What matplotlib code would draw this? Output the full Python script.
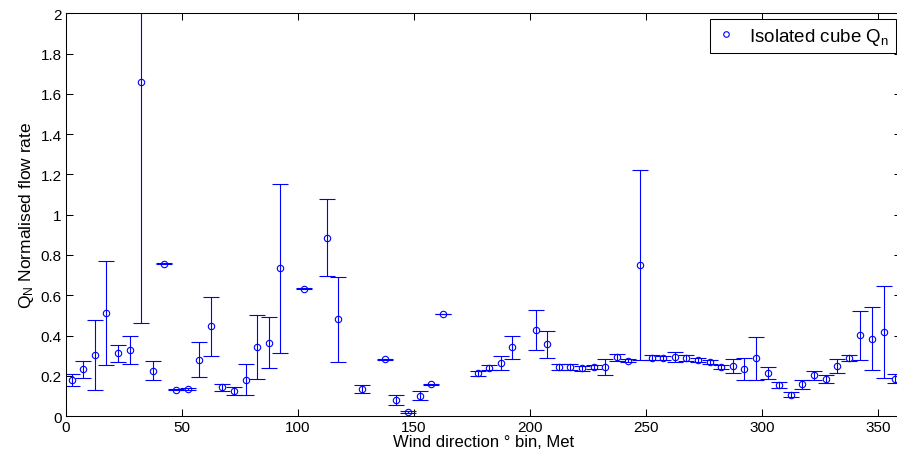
import matplotlib
matplotlib.use("Agg")
import matplotlib.pyplot as plt
from matplotlib.lines import Line2D

plt.rcParams['font.family'] = ['Liberation Sans', 'DejaVu Sans']
plt.rcParams['mathtext.fontset'] = 'custom'
plt.rcParams['mathtext.rm'] = 'Liberation Sans'
plt.rcParams['mathtext.it'] = 'Liberation Sans'

# Wind direction bin centres (degrees, Met)
direction = [2.5, 7.5, 12.5, 17.5, 22.5, 27.5, 32.5, 37.5, 42.5, 47.5,
             52.5, 57.5, 62.5, 67.5, 72.5, 77.5, 82.5, 87.5, 92.5, 102.5,
             112.5, 117.5, 127.5, 137.5, 142.5, 147.5, 152.5, 157.5, 162.5,
             177.5, 182.5, 187.5, 192.5, 202.5, 207.5, 212.5, 217.5, 222.5,
             227.5, 232.5, 237.5, 242.5, 247.5, 252.5, 257.5, 262.5, 267.5,
             272.5, 277.5, 282.5, 287.5, 292.5, 297.5, 302.5, 307.5, 312.5,
             317.5, 322.5, 327.5, 332.5, 337.5, 342.5, 347.5, 352.5, 357.5]

# Normalised flow rate Q_N
q_norm = [0.180, 0.232, 0.305, 0.511, 0.312, 0.327, 1.659, 0.226, 0.757, 0.132,
          0.136, 0.281, 0.446, 0.143, 0.124, 0.182, 0.343, 0.364, 0.734, 0.633,
          0.886, 0.480, 0.135, 0.282, 0.080, 0.021, 0.102, 0.158, 0.507,
          0.212, 0.241, 0.263, 0.342, 0.429, 0.356, 0.244, 0.244, 0.238,
          0.244, 0.244, 0.292, 0.275, 0.752, 0.291, 0.288, 0.295, 0.290,
          0.279, 0.269, 0.246, 0.248, 0.234, 0.287, 0.214, 0.156, 0.107,
          0.158, 0.203, 0.183, 0.249, 0.287, 0.401, 0.385, 0.419, 0.186]

# Symmetric error (half-range)
q_err = [0.029, 0.041, 0.174, 0.258, 0.042, 0.069, 1.196, 0.046, 0.002, 0.004,
         0.004, 0.088, 0.147, 0.018, 0.019, 0.077, 0.160, 0.126, 0.419, 0.002,
         0.192, 0.212, 0.022, 0.002, 0.024, 0.004, 0.022, 0.002, 0.002,
         0.011, 0.012, 0.034, 0.058, 0.100, 0.068, 0.017, 0.017, 0.012,
         0.012, 0.041, 0.019, 0.008, 0.472, 0.013, 0.010, 0.025, 0.014,
         0.012, 0.010, 0.010, 0.035, 0.053, 0.106, 0.031, 0.015, 0.014,
         0.022, 0.023, 0.019, 0.033, 0.015, 0.121, 0.156, 0.229, 0.022]

x_ticks = [0, 50, 100, 150, 200, 250, 300, 350]
y_ticks = [0, 0.2, 0.4, 0.6, 0.8, 1.0, 1.2, 1.4, 1.6, 1.8, 2.0]
y_tick_labels = ['0', '0.2', '0.4', '0.6', '0.8', '1', '1.2', '1.4', '1.6', '1.8', '2']

W, H = 897, 464
fig = plt.figure(figsize=(W / 100, H / 100), dpi=100)
left, right, top, bottom = 65.7, 901.0, 14.2, 417.2
ax = fig.add_axes([left / W, (H - bottom) / H, (right - left) / W, (bottom - top) / H])

blue = (0, 0, 1)
ax.errorbar(direction, q_norm, yerr=q_err, fmt='o', color=blue,
            ecolor=blue, elinewidth=0.8, capsize=6, capthick=0.8,
            markersize=4.6, markerfacecolor='none', markeredgecolor=blue,
            markeredgewidth=0.8)

ax.set_xlim(0, 360)
ax.set_ylim(0, 2)
ax.set_xticks(x_ticks)
ax.set_yticks(y_ticks)
ax.set_yticklabels(y_tick_labels)
ax.tick_params(direction='in', length=5, width=0.75, top=True, right=True,
               labelsize=11, pad=3)
for s in ax.spines.values():
    s.set_linewidth(0.75)
    s.set_color('black')

ax.set_xlabel('Wind direction \u00b0 bin, Met', fontsize=12, labelpad=0)
ax.set_ylabel('Q$_\\mathregular{N}$ Normalised flow rate', fontsize=12.5, labelpad=3)

handle = Line2D([], [], linestyle='none', marker='o', markersize=4.0,
                markerfacecolor='none', markeredgecolor=blue, markeredgewidth=0.8)
leg = ax.legend([handle], ['Isolated cube Q$_\\mathregular{n}$'],
                loc='upper right', bbox_to_anchor=(896 / W, 1 - 20 / H),
                bbox_transform=fig.transFigure, borderaxespad=0,
                fancybox=False, framealpha=1, edgecolor='black', fontsize=13.5,
                handlelength=1.0, handletextpad=0.75, borderpad=0.35)
leg.get_frame().set_linewidth(0.75)

fig.savefig('out.png', dpi=100)
